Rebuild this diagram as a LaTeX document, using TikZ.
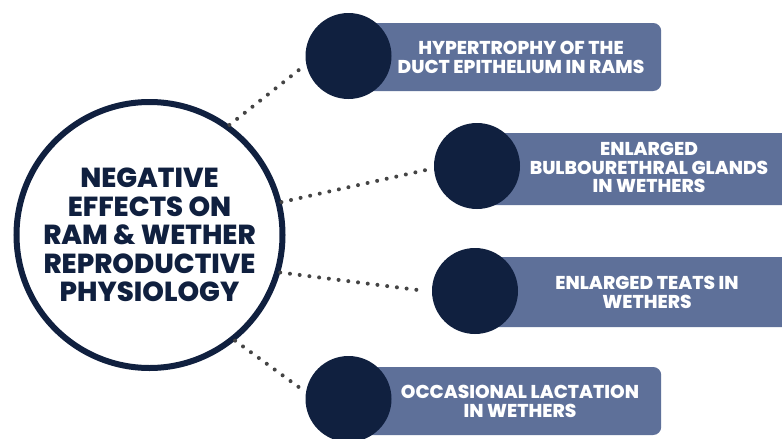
\documentclass[tikz,border=0pt]{standalone}
\usepackage{fontspec}
\setmainfont{Poppins}[BoldFont={Poppins ExtraBold}]
\definecolor{navy}{HTML}{10203F}
\definecolor{slate}{HTML}{5E7099}
\definecolor{dotgray}{HTML}{444444}
\begin{document}
\begin{tikzpicture}[x=1pt,y=-1pt,
  bigcirc/.style={circle, draw=navy, line width=6pt, fill=white, minimum size=266pt, inner sep=0pt,
    text=navy, font=\bfseries\fontsize{27.5}{28.5}\selectfont, align=center},
  dotcirc/.style={circle, fill=navy, minimum size=86pt, inner sep=0pt},
  bar/.style={fill=slate, rounded corners=8pt, inner sep=0pt, anchor=west},
  bartext/.style={text=white, font=\bfseries\fontsize{18.6}{18.8}\selectfont, align=center, inner sep=0pt},
  dots/.style={draw=dotgray, line width=4pt, line cap=round, dash pattern=on 0pt off 9.8pt, shorten >=7pt}
]
\clip (0,0) rectangle (782,439);
\fill[white] (0,0) rectangle (782,439);
% bars
\node[bar, minimum width=313pt, minimum height=68pt] (r1) at (348,57) {};
\node[bar, minimum width=330pt, minimum height=72pt] (r2) at (477,169) {};
\node[bar, minimum width=330pt, minimum height=70pt] (r3) at (475,292) {};
\node[bar, minimum width=313pt, minimum height=68pt] (r4) at (348,401) {};
% dark circles
\node[dotcirc] (c1) at (348.5,56) {};
\node[dotcirc] (c2) at (477,166) {};
\node[dotcirc] (c3) at (475,291) {};
\node[dotcirc] (c4) at (348.5,399) {};
% bar texts
\node[bartext] (t1) at (521,57.5) {HYPERTROPHY OF THE\\DUCT EPITHELIUM IN RAMS};
\node[bartext] (t2) at (649,167.5) {ENLARGED\\BULBOURETHRAL GLANDS\\IN WETHERS};
\node[bartext] (t3) at (647,292.5) {ENLARGED TEATS IN\\WETHERS};
\node[bartext] (t4) at (520,401.5) {OCCASIONAL LACTATION\\IN WETHERS};
% big circle
\node[bigcirc] (big) at (149.5,235) {NEGATIVE\\EFFECTS ON\\RAM \& WETHER\\REPRODUCTIVE\\PHYSIOLOGY};
% dotted connectors
\draw[dots] (big.54.5) -- (c1.191.4);
\draw[dots] (big.14.6) -- (c2.183.4);
\draw[dots] (big.-16.5) -- (c3.181);
\draw[dots] (big.-51.1) -- (c4.171.6);
\end{tikzpicture}
\end{document}
